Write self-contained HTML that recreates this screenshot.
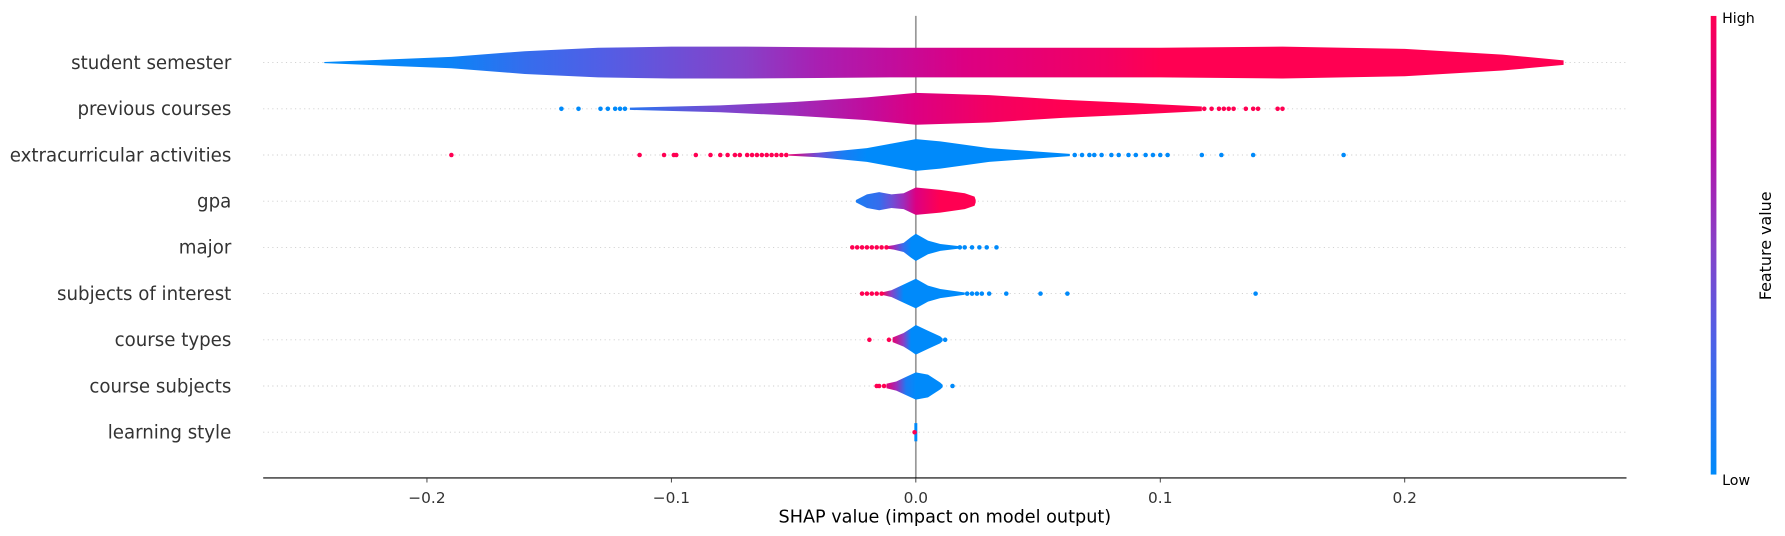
<!DOCTYPE html>
<html><head><meta charset="utf-8"><style>
html,body{margin:0;padding:0;background:#fff;}
svg{display:block;font-family:"DejaVu Sans","Liberation Sans",sans-serif;}
</style></head><body>
<svg id="chart" width="1785" height="536" viewBox="0 0 1568 471" xmlns="http://www.w3.org/2000/svg">
<defs id="defs">
<linearGradient id="cbgrad" x1="0" y1="1" x2="0" y2="0">
<stop offset="0" stop-color="rgb(0,138,250)"/><stop offset="0.3" stop-color="rgb(80,95,230)"/><stop offset="0.5" stop-color="rgb(135,65,200)"/><stop offset="0.7" stop-color="rgb(180,20,170)"/><stop offset="0.85" stop-color="rgb(220,0,130)"/><stop offset="1" stop-color="rgb(255,0,82)"/>
</linearGradient>
</defs>
<g id="grid"></g>
<line x1="804.5" x2="804.5" y1="14" y2="420" stroke="#999" stroke-width="1.5"/>
<g id="marks"></g>
<g id="ylabels"></g>
<line x1="231" x2="1429" y1="420" y2="420" stroke="#000" stroke-width="1"/>
<g id="xticks"></g>
<text x="830" y="459" font-size="15.5" text-anchor="middle" fill="#000">SHAP value (impact on model output)</text>
<rect x="1503" y="14" width="5" height="403" fill="url(#cbgrad)"/>
<text x="1513" y="20" font-size="12.5" fill="#000">High</text>
<text x="1513" y="426" font-size="12.5" fill="#000">Low</text>
<text x="0" y="0" font-size="14" fill="#000" text-anchor="middle" transform="translate(1556,216) rotate(-90)">Feature value</text>
</svg>
<script>
const features = ["student semester","previous courses","extracurricular activities","gpa","major","subjects of interest","course types","course subjects","learning style"];
const xTicks = [-0.2,-0.1,0.0,0.1,0.2];
const xTickLabels = ["\u22120.2","\u22120.1","0.0","0.1","0.2"];
// violin profiles: [shap, halfWidth(px), colorValue]
const violin0 = [[-0.242,0.5,0],[-0.19,5,0.05],[-0.16,10,0.2],[-0.13,13,0.3],[-0.1,14,0.4],[-0.07,14,0.5],[-0.04,13.5,0.65],[-0.01,13,0.75],[0.02,13,0.85],[0.05,13,0.9],[0.08,13,0.95],[0.1,13,1],[0.15,14,1],[0.2,12,1],[0.24,7,1],[0.265,2,1]];
const violin1 = [[-0.117,1,0.15],[-0.08,3,0.45],[-0.05,6,0.6],[-0.02,10,0.75],[0,14,0.85],[0.03,12,0.95],[0.06,8,1],[0.09,5,1],[0.117,2,1]];
const violin2 = [[-0.052,0.5,0.9],[-0.04,2,0.4],[-0.03,4,0.1],[-0.02,6,0],[-0.01,10,0],[0,14,0],[0.01,12,0],[0.03,6,0],[0.05,3,0],[0.063,1,0]];
const violin3 = [[-0.0245,1,0.1],[-0.02,6,0.15],[-0.015,8,0.2],[-0.01,6,0.4],[-0.005,7,0.6],[0,12,0.85],[0.01,10,1],[0.02,7,1],[0.024,4,1],[0.0245,1,1]];
const violin4 = [[-0.012,1,0.9],[-0.009,2,0.6],[-0.005,4,0.2],[-0.002,9,0],[0,12,0],[0.005,6,0],[0.01,3,0],[0.018,1,0]];
const violin5 = [[-0.014,1,1],[-0.01,3,0.5],[-0.005,8,0],[0,13,0],[0.005,7,0],[0.01,4,0],[0.02,1,0]];
const violin6 = [[-0.0095,2,0.9],[-0.005,6,0.5],[-0.002,10,0],[0,13,0],[0.005,8,0],[0.01,3,0],[0.011,1,0]];
const violin7 = [[-0.012,2,0.9],[-0.008,4,0.6],[-0.004,8,0.1],[0,12,0],[0.005,10,0],[0.01,3,0],[0.011,1,0]];
const violin8 = [[-0.0006,8,0],[0.0006,8,0]];
const violins = [violin0,violin1,violin2,violin3,violin4,violin5,violin6,violin7,violin8];
// outlier dots: [shap, colorValue]
const dots0 = [];
const dots1 = [[-0.145,0],[-0.138,0],[-0.129,0],[-0.126,0],[-0.123,0],[-0.121,0],[-0.119,0],[0.118,1],[0.121,1],[0.124,1],[0.126,1],[0.128,1],[0.13,1],[0.135,1],[0.138,1],[0.14,1],[0.148,1],[0.15,1]];
const dots2 = [[-0.19,1],[-0.113,1],[-0.103,1],[-0.099,1],[-0.098,1],[-0.09,1],[-0.084,1],[-0.08,1],[-0.077,1],[-0.074,1],[-0.072,1],[-0.069,1],[-0.067,1],[-0.065,1],[-0.063,1],[-0.061,1],[-0.059,1],[-0.057,1],[-0.055,1],[-0.053,1],[0.065,0],[0.068,0],[0.071,0],[0.073,0],[0.076,0],[0.08,0],[0.083,0],[0.087,0],[0.09,0],[0.094,0],[0.097,0],[0.1,0],[0.103,0],[0.117,0],[0.125,0],[0.138,0],[0.175,0]];
const dots3 = [];
const dots4 = [[-0.026,1],[-0.024,1],[-0.022,1],[-0.02,1],[-0.018,1],[-0.016,1],[-0.014,1],[-0.012,1],[0.018,0],[0.02,0],[0.023,0],[0.026,0],[0.029,0],[0.033,0]];
const dots5 = [[-0.022,1],[-0.02,1],[-0.018,1],[-0.016,1],[-0.014,1],[0.021,0],[0.023,0],[0.025,0],[0.027,0],[0.03,0],[0.037,0],[0.051,0],[0.062,0],[0.139,0]];
const dots6 = [[-0.019,1],[-0.011,1],[0.012,0]];
const dots7 = [[-0.016,1],[-0.015,1],[-0.013,1],[0.01,0],[0.015,0]];
const dots8 = [[-0.0005,1]];
const dotSets = [dots0,dots1,dots2,dots3,dots4,dots5,dots6,dots7,dots8];

const NS = "http://www.w3.org/2000/svg";
const X0 = 804.5, XS = 2148;
function xs(v){ return X0 + v*XS; }
function ys(i){ return 55 + i*40.6; }
const cstops = [[0,[0,138,250]],[0.3,[80,95,230]],[0.5,[135,65,200]],[0.7,[180,20,170]],[0.85,[220,0,130]],[1,[255,0,82]]];
function col(c){
  for(let i=1;i<cstops.length;i++){
    if(c<=cstops[i][0]){
      const a=cstops[i-1],b=cstops[i],t=(c-a[0])/(b[0]-a[0]);
      return "rgb("+[0,1,2].map(k=>Math.round(a[1][k]+(b[1][k]-a[1][k])*t)).join(",")+")";
    }
  }
  return "rgb(255,0,82)";
}
function mk(tag, attrs, parent){
  const e=document.createElementNS(NS,tag);
  for(const k in attrs) e.setAttribute(k,attrs[k]);
  parent.appendChild(e); return e;
}
const grid=document.getElementById('grid'), marks=document.getElementById('marks'), ylab=document.getElementById('ylabels'), defs=document.getElementById('defs'), xt=document.getElementById('xticks');
features.forEach((f,i)=>{
  const y=ys(i);
  const g=mk('line',{x1:231,x2:1429,y1:y,y2:y,stroke:'#ccc','stroke-width':0.8,'stroke-dasharray':'1,3'},grid);
  
  
  const t=mk('text',{x:203,y:y+5.5,'font-size':16,'text-anchor':'end',fill:'#333'},ylab);
  t.textContent=f;
  
  
  const v=violins[i];
  const lo=xs(v[0][0]), hi=xs(v[v.length-1][0]);
  const gr=mk('linearGradient',{id:'vg'+i,gradientUnits:'userSpaceOnUse',x1:lo,x2:hi,y1:0,y2:0},defs);
  v.forEach(p=>mk('stop',{offset:(hi>lo?(xs(p[0])-lo)/(hi-lo):0),'stop-color':col(p[2])},gr));
  let d='M'+v.map(p=>xs(p[0]).toFixed(1)+','+(y-p[1]).toFixed(1)).join(' L');
  d+=' L'+v.slice().reverse().map(p=>xs(p[0]).toFixed(1)+','+(y+p[1]).toFixed(1)).join(' L')+' Z';
  const path=mk('path',{d:d,fill:'url(#vg'+i+')'},marks);
  
  
  dotSets[i].forEach(p=>{
    const c=mk('circle',{cx:xs(p[0]),cy:y,r:2,fill:col(p[1])},marks);
    
    
  });
});
xTicks.forEach((v,i)=>{
  const l=mk('line',{x1:xs(v),x2:xs(v),y1:420,y2:424,stroke:'#333','stroke-width':0.8},xt);
  
  
  const t=mk('text',{x:xs(v),y:442,'font-size':13.5,'text-anchor':'middle',fill:'#333'},xt);
  t.textContent=xTickLabels[i];
  
  
});
</script>
</body></html>
